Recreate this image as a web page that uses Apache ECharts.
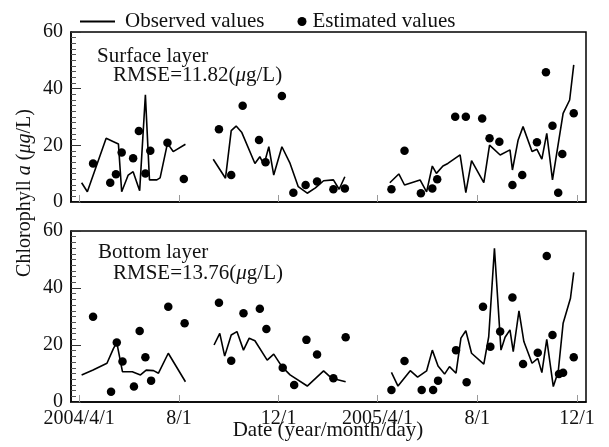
<!DOCTYPE html>
<html>
<head>
<meta charset="utf-8">
<script src="https://cdn.jsdelivr.net/npm/echarts@6/dist/echarts.min.js"></script>
<style>
  html, body { margin: 0; padding: 0; background: #fff; }
  #chart { width: 609px; height: 447px; }
</style>
</head>
<body>
<div id="chart"></div>
<script>
// x-axis ticks
const tickDates = ['2004-04-01', '2004-08-01', '2004-12-01', '2005-04-01', '2005-08-01', '2005-12-01'];
const tickLabels = ['2004/4/1', '8/1', '12/1', '2005/4/1', '8/1', '12/1'];

// surface layer, observed (line, three sampling periods)
const surfaceObserved = [
  [['2004-04-04', 6.8], ['2004-04-11', 3.6], ['2004-05-04', 22.5], ['2004-05-13', 21.3], ['2004-05-19', 20.5],
   ['2004-05-23', 3.6], ['2004-05-31', 9.5], ['2004-06-06', 10.7], ['2004-06-14', 4.0], ['2004-06-21', 37.8],
   ['2004-06-26', 7.8], ['2004-07-05', 7.8], ['2004-07-09', 8.5], ['2004-07-18', 20.7], ['2004-07-25', 17.8],
   ['2004-08-09', 20.4]],
  [['2004-09-12', 15.1], ['2004-09-27', 8.4], ['2004-10-04', 25.2], ['2004-10-10', 26.8], ['2004-10-17', 24.5],
   ['2004-11-02', 13.6], ['2004-11-08', 16.0], ['2004-11-13', 13.1], ['2004-11-19', 19.5], ['2004-11-25', 9.5],
   ['2004-12-05', 19.5], ['2004-12-15', 13.6], ['2004-12-25', 5.4], ['2005-01-05', 3.1], ['2005-01-15', 5.0],
   ['2005-01-25', 7.5], ['2005-02-06', 7.8], ['2005-02-13', 4.5], ['2005-02-20', 8.9]],
  [['2005-04-16', 6.8], ['2005-04-27', 9.9], ['2005-05-04', 6.0], ['2005-05-23', 7.8], ['2005-05-31', 3.6],
   ['2005-06-07', 12.7], ['2005-06-12', 10.1], ['2005-06-20', 12.7], ['2005-06-26', 13.6], ['2005-07-11', 16.6],
   ['2005-07-18', 3.3], ['2005-07-25', 14.6], ['2005-08-09', 6.8], ['2005-08-16', 20.1], ['2005-08-29', 16.6],
   ['2005-09-10', 18.4], ['2005-09-13', 11.3], ['2005-09-20', 21.9], ['2005-09-26', 26.6], ['2005-10-07', 17.8],
   ['2005-10-13', 18.6], ['2005-10-19', 15.1], ['2005-10-25', 24.2], ['2005-11-01', 7.8], ['2005-11-14', 31.3],
   ['2005-11-22', 36.0], ['2005-11-27', 48.4]]
];

// surface layer, estimated (dots)
const surfaceEstimated = [
  ['2004-04-18', 13.6], ['2004-05-09', 6.8], ['2004-05-16', 9.8], ['2004-05-23', 17.5], ['2004-06-06', 15.4],
  ['2004-06-13', 25.1], ['2004-06-21', 10.1], ['2004-06-27', 18.1], ['2004-07-18', 20.9], ['2004-08-07', 8.1],
  ['2004-09-19', 25.7], ['2004-10-04', 9.5], ['2004-10-18', 34.0], ['2004-11-07', 21.9], ['2004-11-15', 14.0],
  ['2004-12-05', 37.4], ['2004-12-19', 3.3], ['2005-01-03', 6.0], ['2005-01-17', 7.2], ['2005-02-06', 4.5],
  ['2005-02-20', 4.8], ['2005-04-18', 4.5], ['2005-05-04', 18.1], ['2005-05-24', 3.1], ['2005-06-07', 4.8],
  ['2005-06-13', 8.0], ['2005-07-05', 30.1], ['2005-07-18', 30.1], ['2005-08-07', 29.5], ['2005-08-16', 22.5],
  ['2005-08-28', 21.3], ['2005-09-13', 6.0], ['2005-09-25', 9.5], ['2005-10-13', 21.1], ['2005-10-24', 45.8],
  ['2005-11-01', 26.9], ['2005-11-08', 3.3], ['2005-11-13', 16.9], ['2005-11-27', 31.3]
];

// bottom layer, observed
const bottomObserved = [
  [['2004-04-04', 9.5], ['2004-04-18', 11.2], ['2004-05-05', 13.6], ['2004-05-13', 18.8], ['2004-05-17', 20.8],
   ['2004-05-24', 10.6], ['2004-06-05', 10.6], ['2004-06-15', 9.5], ['2004-06-22', 11.2], ['2004-07-01', 11.0],
   ['2004-07-07', 10.1], ['2004-07-19', 17.1], ['2004-08-09', 7.1]],
  [['2004-09-13', 20.0], ['2004-09-20', 24.1], ['2004-09-26', 16.1], ['2004-10-04', 23.5], ['2004-10-11', 24.7],
   ['2004-10-19', 18.2], ['2004-10-26', 22.4], ['2004-11-02', 21.5], ['2004-11-17', 14.7], ['2004-11-25', 16.8],
   ['2004-12-05', 12.4], ['2004-12-15', 9.5], ['2005-01-05', 5.6], ['2005-01-25', 10.9], ['2005-02-04', 8.3],
   ['2005-02-21', 7.1]],
  [['2005-04-18', 10.4], ['2005-04-26', 5.6], ['2005-05-11', 11.0], ['2005-05-20', 8.7], ['2005-05-31', 10.9],
   ['2005-06-07', 18.2], ['2005-06-14', 12.6], ['2005-06-22', 9.8], ['2005-06-28', 12.4], ['2005-07-06', 10.1],
   ['2005-07-12', 22.4], ['2005-07-18', 25.0], ['2005-07-25', 17.1], ['2005-08-09', 13.3], ['2005-08-15', 22.9],
   ['2005-08-22', 53.9], ['2005-08-30', 18.2], ['2005-09-04', 22.7], ['2005-09-10', 25.3], ['2005-09-14', 17.7],
   ['2005-09-21', 32.0], ['2005-09-27', 21.2], ['2005-10-07', 13.6], ['2005-10-14', 15.3], ['2005-10-19', 10.3],
   ['2005-10-25', 22.0], ['2005-11-02', 5.4], ['2005-11-08', 10.6], ['2005-11-14', 27.6], ['2005-11-23', 36.4],
   ['2005-11-27', 45.5]]
];

// bottom layer, estimated
const bottomEstimated = [
  ['2004-04-18', 29.9], ['2004-05-10', 3.6], ['2004-05-17', 20.9], ['2004-05-24', 14.2], ['2004-06-07', 5.4],
  ['2004-06-14', 24.9], ['2004-06-21', 15.7], ['2004-06-28', 7.5], ['2004-07-19', 33.4], ['2004-08-08', 27.6],
  ['2004-09-19', 34.8], ['2004-10-04', 14.5], ['2004-10-19', 31.1], ['2004-11-08', 32.7], ['2004-11-16', 25.6],
  ['2004-12-06', 12.0], ['2004-12-20', 6.0], ['2005-01-04', 21.8], ['2005-01-17', 16.7], ['2005-02-06', 8.3],
  ['2005-02-21', 22.7], ['2005-04-18', 4.2], ['2005-05-04', 14.4], ['2005-05-25', 4.2], ['2005-06-08', 4.2],
  ['2005-06-14', 7.5], ['2005-07-06', 18.2], ['2005-07-19', 6.9], ['2005-08-08', 33.4], ['2005-08-17', 19.4],
  ['2005-08-29', 24.7], ['2005-09-13', 36.7], ['2005-09-26', 13.3], ['2005-10-14', 17.3], ['2005-10-25', 51.2],
  ['2005-11-01', 23.5], ['2005-11-09', 9.8], ['2005-11-14', 10.3], ['2005-11-27', 15.7]
];

const FONT = '"Liberation Serif", "DejaVu Serif", serif';
const toTime = d => +echarts.time.parse(d);
const tickTimes = tickDates.map(toTime);
const xMin = toTime('2004-03-22');
const xMax = toTime('2005-12-12');
const toPoints = arr => arr.map(p => [toTime(p[0]), p[1]]);

const chart = echarts.init(document.getElementById('chart'));

function makeX(idx) {
  return {
    type: 'value',
    gridIndex: idx,
    min: xMin,
    max: xMax,
    axisLine: { lineStyle: { color: '#000', width: 1.5 } },
    axisTick: { inside: true, length: 7, customValues: tickTimes, lineStyle: { color: '#999' } },
    axisLabel: {
      show: idx === 1,
      customValues: tickTimes,
      formatter: v => tickLabels[tickTimes.indexOf(v)] || '',
      fontFamily: FONT, fontSize: 20, color: '#111', margin: 7
    },
    splitLine: { show: false }
  };
}

function makeY(idx) {
  return {
    type: 'value',
    gridIndex: idx,
    min: 0, max: 60, interval: 20,
    axisLine: { show: true, lineStyle: { color: '#000', width: 1.5 } },
    axisTick: { inside: true, length: 10, lineStyle: { color: '#333' } },
    minorTick: { show: true, splitNumber: 10, length: 5, lineStyle: { color: '#555' } },
    axisLabel: { fontFamily: FONT, fontSize: 20, color: '#111', margin: 8 },
    splitLine: { show: false }
  };
}

const series = [];
[surfaceObserved, bottomObserved].forEach((segs, idx) => {
  segs.forEach(seg => {
    series.push({
      name: 'Observed values', type: 'line', xAxisIndex: idx, yAxisIndex: idx,
      symbol: 'none', lineStyle: { color: '#000', width: 1.6 }, itemStyle: { color: '#000' },
      data: toPoints(seg)
    });
  });
});
[surfaceEstimated, bottomEstimated].forEach((pts, idx) => {
  series.push({
    name: 'Estimated values', type: 'scatter', xAxisIndex: idx, yAxisIndex: idx,
    symbolSize: 8.5, itemStyle: { color: '#000', opacity: 1 },
    data: toPoints(pts)
  });
});

const bigText = { fontFamily: FONT, fontSize: 21, color: '#111' };

chart.setOption({
  animation: false,
  grid: [
    { left: 71, right: 23, top: 32, height: 170, show: true, borderColor: '#000', borderWidth: 1.5 },
    { left: 71, right: 23, top: 231, height: 171, show: true, borderColor: '#000', borderWidth: 1.5 }
  ],
  xAxis: [makeX(0), makeX(1)],
  yAxis: [makeY(0), makeY(1)],
  legend: [
    { data: [{ name: 'Observed values', icon: 'rect' }], left: 80, top: 11, padding: 0,
      itemWidth: 35, itemHeight: 2,
      textStyle: Object.assign({ padding: [0, 0, 0, 5] }, bigText) },
    { data: [{ name: 'Estimated values', icon: 'circle' }], left: 297.5, top: 11, padding: 0,
      itemWidth: 9, itemHeight: 9,
      textStyle: Object.assign({ padding: [0, 0, 0, 1] }, bigText) }
  ],
  graphic: [
    { type: 'text', left: 97, top: 46, style: Object.assign({ text: 'Surface layer' }, bigText, { fill: '#111' }) },
    { type: 'text', left: 113, top: 65, style: {
        text: 'RMSE=11.82({i|μ}g/L)', font: '21px ' + FONT, fill: '#111',
        rich: { i: { fontStyle: 'italic', fontFamily: FONT, fontSize: 21 } } } },
    { type: 'text', left: 98, top: 242, style: Object.assign({ text: 'Bottom layer' }, bigText, { fill: '#111' }) },
    { type: 'text', left: 113, top: 263, style: {
        text: 'RMSE=13.76({i|μ}g/L)', font: '21px ' + FONT, fill: '#111',
        rich: { i: { fontStyle: 'italic', fontFamily: FONT, fontSize: 21 } } } },
    { type: 'text', x: 25, y: 193, rotation: Math.PI / 2, style: {
        text: 'Chlorophyll {i|a} ({i|μg}/L)', font: '20px ' + FONT, fill: '#111',
        align: 'center', verticalAlign: 'middle',
        rich: { i: { fontStyle: 'italic', fontFamily: FONT, fontSize: 20 } } } },
    { type: 'text', x: 328, y: 420, style: {
        text: 'Date (year/month/day)', font: '21px ' + FONT, fill: '#111', align: 'center' } }
  ],
  series: series
});
</script>
</body>
</html>
